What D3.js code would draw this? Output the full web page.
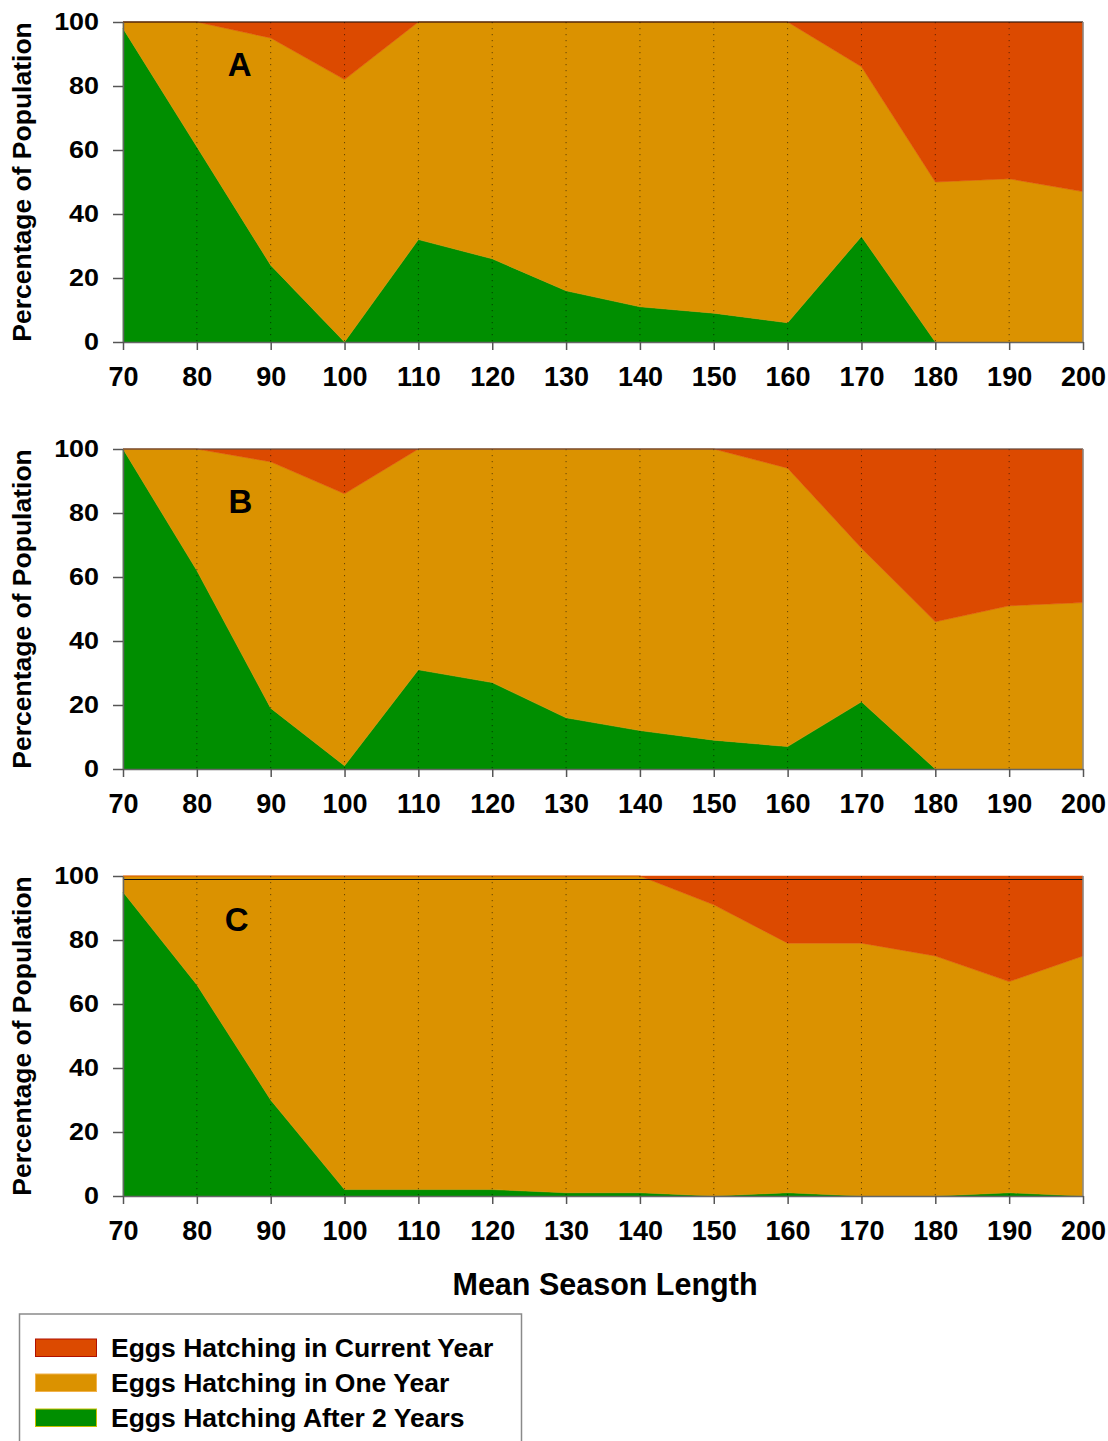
<!DOCTYPE html>
<html><head><meta charset="utf-8">
<script src="https://cdn.jsdelivr.net/npm/d3@7"></script>
<style>
body{margin:0;background:#fff}
svg{display:block}
text{font-family:"Liberation Sans",Arial,Helvetica,sans-serif;font-weight:bold;fill:#000}
</style>
</head><body>
<svg id="chart" width="1108" height="1441"></svg>
<script>
// ---- data ----
const seasonLength = [70,80,90,100,110,120,130,140,150,160,170,180,190,200];
const panelLabels = ["A","B","C"];
const yTickValues = [0,20,40,60,80,100];
const seriesNames = ["Eggs Hatching in Current Year","Eggs Hatching in One Year","Eggs Hatching After 2 Years"];

const afterTwoYearsA = [98,61,24,0,32,26,16,11,9,6,33,0,0,0];
const oneYearA       = [2,39,71,82,68,74,84,89,91,94,53,50,51,47];
const currentYearA   = [0,0,5,18,0,0,0,0,0,0,14,50,49,53];

const afterTwoYearsB = [100,62,19,1,31,27,16,12,9,7,21,0,0,0];
const oneYearB       = [0,38,77,85,69,73,84,88,91,87,48,46,51,52];
const currentYearB   = [0,0,4,14,0,0,0,0,0,6,31,54,49,48];

const afterTwoYearsC = [95,66,30,2,2,2,1,1,0,1,0,0,1,0];
const oneYearC       = [5,34,70,98,98,98,99,99,91,78,79,75,66,75];
const currentYearC   = [0,0,0,0,0,0,0,0,9,21,21,25,33,25];

const panelData = [
  {label:panelLabels[0], afterTwo:afterTwoYearsA, oneYear:oneYearA, current:currentYearA},
  {label:panelLabels[1], afterTwo:afterTwoYearsB, oneYear:oneYearB, current:currentYearB},
  {label:panelLabels[2], afterTwo:afterTwoYearsC, oneYear:oneYearC, current:currentYearC}
];

// ---- styling / layout ----
const colorCurrent = "#DC4A00", colorOne = "#DB9200", colorTwo = "#008E00";
const keys = ["afterTwo","oneYear","current"];
const fillOf = {afterTwo:colorTwo, oneYear:colorOne, current:colorCurrent};
const plotLeft = 123, plotRight = 1083, plotH = 320;
const panelTops = [22, 449, 876];
const letterPos = [[85.8,83],[85.9,80],[85.4,82.8]];

const svg = d3.select("#chart");
const x = d3.scaleLinear().domain([70,200]).range([plotLeft, plotRight]);

panelData.forEach((p, i) => {
  const top = panelTops[i];
  const y = d3.scaleLinear().domain([0,100]).range([top+plotH, top]);
  const rows = seasonLength.map((s, j) => ({s, afterTwo:p.afterTwo[j], oneYear:p.oneYear[j], current:p.current[j]}));
  const stacked = d3.stack().keys(keys)(rows);
  const area = d3.area().x(d => x(d.data.s)).y0(d => y(d[0])).y1(d => y(d[1]));
  const g = svg.append("g");
  g.selectAll("path.layer").data(stacked).join("path")
    .attr("class","layer")
    .attr("d", area)
    .attr("fill", d => fillOf[d.key])
    .attr("stroke", d => fillOf[d.key])
    .attr("stroke-width", 0.5);

  // dotted vertical grid
  g.selectAll("line.grid").data(seasonLength.slice(1, -1)).join("line")
    .attr("class","grid")
    .attr("x1", d => x(d)).attr("x2", d => x(d))
    .attr("y1", y(100)).attr("y2", y(0))
    .attr("stroke", "#000").attr("stroke-opacity", 0.55)
    .attr("stroke-width", 1).attr("stroke-dasharray", "1.2,4.8");

  // top frame line
  const topVal = i === 2 ? 98.9 : 100;
  g.append("line").attr("x1", x(70)).attr("x2", x(200))
    .attr("y1", y(topVal)).attr("y2", y(topVal))
    .attr("stroke", i === 1 ? "#4a4a4a" : "#111").attr("stroke-width", 1.2);
  // right frame
  g.append("line").attr("x1", x(200)).attr("x2", x(200))
    .attr("y1", y(100)).attr("y2", y(0))
    .attr("stroke", "#8a8a8a").attr("stroke-width", 1.5);

  // y axis
  const ya = g.append("g").attr("transform", `translate(${plotLeft},0)`)
    .call(d3.axisLeft(y).tickValues(yTickValues).tickSize(10).tickSizeOuter(0).tickPadding(14));
  ya.select(".domain").attr("stroke", "#666").attr("stroke-width", 1.5);
  ya.selectAll(".tick line").attr("stroke", "#555").attr("stroke-width", 1.5);
  ya.selectAll(".tick text")
    .attr("font-size", 23).attr("font-family", null)
    .attr("x", -24/1.17)
    .attr("transform", "scale(1.17,1)");

  // x axis
  const xa = g.append("g").attr("transform", `translate(0,${y(0)})`)
    .call(d3.axisBottom(x).tickValues(seasonLength).tickSize(8).tickSizeOuter(0).tickPadding(17));
  xa.select(".domain").attr("stroke", "#666").attr("stroke-width", 1.5);
  xa.selectAll(".tick line").attr("stroke", "#555").attr("stroke-width", 1.5);
  xa.selectAll(".tick text").attr("font-size", 27).attr("font-family", null);

  // y title
  g.append("text")
    .attr("transform", `translate(31,${top + plotH/2}) rotate(-90)`)
    .attr("text-anchor", "middle")
    .attr("font-size", 26.5)
    .text("Percentage of Population");

  // panel letter
  g.append("text")
    .attr("x", x(letterPos[i][0])).attr("y", y(letterPos[i][1]))
    .attr("text-anchor", "middle").attr("font-size", 33)
    .text(p.label);
});

// x title
svg.append("text").attr("x", (plotLeft+plotRight)/2 + 2).attr("y", 1295)
  .attr("text-anchor", "middle").attr("font-size", 30.5)
  .text("Mean Season Length");

// legend
const legend = svg.append("g");
legend.append("rect").attr("x", 19.5).attr("y", 1314).attr("width", 502).attr("height", 140)
  .attr("fill", "#fff").attr("stroke", "#8a8a8a").attr("stroke-width", 1.5);
const legendFills = [colorCurrent, colorOne, colorTwo];
const legendStrokes = ["#B01000", "#F2B24A", "#C8C000"];
const li = legend.selectAll("g.item").data(seriesNames).join("g").attr("class","item")
  .attr("transform", (d, k) => `translate(0,${1339 + k*35})`);
li.append("rect").attr("x", 35.5).attr("y", 0).attr("width", 61).attr("height", 17.5)
  .attr("fill", (d, k) => legendFills[k]).attr("stroke", (d, k) => legendStrokes[k]).attr("stroke-width", 1);
li.append("text").attr("x", 111).attr("y", 18).attr("font-size", 26.5).text(d => d);
</script>
</body></html>
